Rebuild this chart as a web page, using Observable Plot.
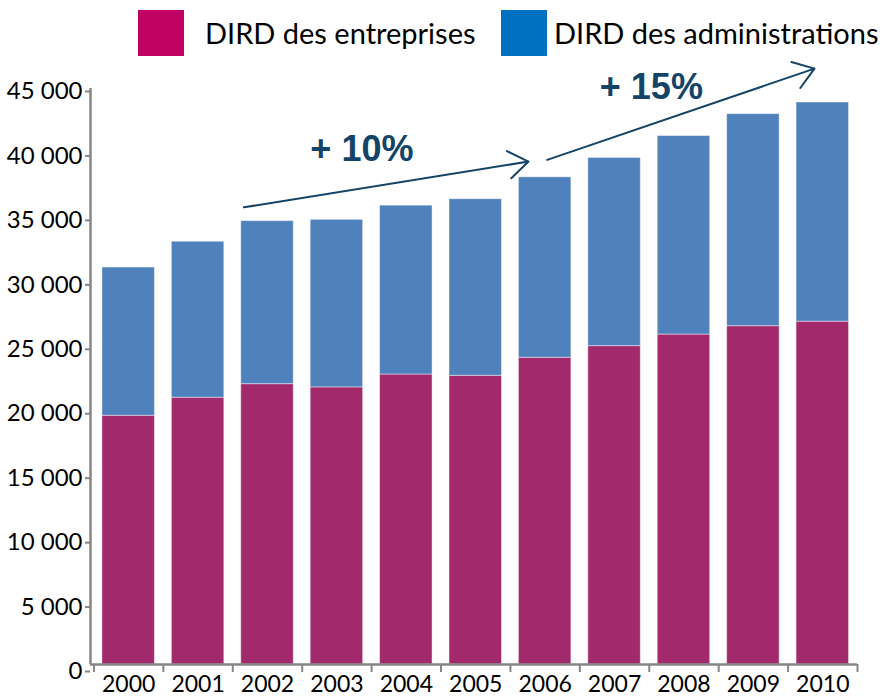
<!DOCTYPE html>
<html>
<head>
<meta charset="utf-8">
<script src="https://cdn.jsdelivr.net/npm/d3@7"></script>
<script src="https://cdn.jsdelivr.net/npm/@observablehq/plot@0.6"></script>
<style>
  body { margin: 0; background: #fff; }
  #wrap { position: relative; width: 884px; height: 700px; overflow: hidden; font-family: Lato, "Noto Sans", sans-serif; }
  #legend { position: relative; height: 60px; }
  .sw { position: absolute; top: 10px; width: 46px; height: 46px; }
  .lt { position: absolute; top: 13px; font-size: 29px; line-height: 40px; color: #000; white-space: nowrap; }
  svg { display: block; overflow: visible; }
</style>
</head>
<body>
<div id="wrap">
  <div id="legend"></div>
  <div id="chart"></div>
</div>
<script>
// ---- data ----
const years = [2000, 2001, 2002, 2003, 2004, 2005, 2006, 2007, 2008, 2009, 2010];
const entreprises = [19300, 20700, 21750, 21500, 22500, 22400, 23800, 24700, 25600, 26250, 26600];
const administrations = [11500, 12100, 12650, 13000, 13100, 13700, 14000, 14600, 15400, 16450, 17000];
const seriesNames = ["DIRD des entreprises", "DIRD des administrations"];
const yTicks = [0, 5000, 10000, 15000, 20000, 25000, 30000, 35000, 40000, 45000];
const arrowLabels = ["+ 10%", "+ 15%"];
const arrowStart = [[2001.66, 35470], [2006.03, 39150]];
const arrowEnd = [[2005.76, 39020], [2009.88, 46230]];
const labelPos = [[2003.36, 39950], [2007.53, 44750]];

// ---- style ----
const barColors = ["#A1296C", "#4F81BD"];
const swatchColors = ["#C00062", "#0070C0"];
const axisGray = "#868686";
const annotColor = "#134468";
const xDomain = [1999.45, 2010.5];
const halfW = 0.378;

// legend
const legend = document.getElementById("legend");
const legendPos = [[138, 205], [501, 554]];
seriesNames.forEach((name, i) => {
  const sw = document.createElement("div");
  sw.className = "sw";
  sw.style.left = legendPos[i][0] + "px";
  sw.style.background = swatchColors[i];
  legend.appendChild(sw);
  const t = document.createElement("div");
  t.className = "lt";
  t.style.left = legendPos[i][1] + "px";
  t.textContent = name;
  legend.appendChild(t);
});

const rows = years.map((year, i) => ({
  year,
  ent: entreprises[i],
  total: entreprises[i] + administrations[i]
}));
const boundaries = [...years.map(y => y - 0.5), years[years.length - 1] + 0.5];
const arrows = arrowLabels.map((label, i) => ({
  label,
  x1: arrowStart[i][0], y1: arrowStart[i][1],
  x2: arrowEnd[i][0], y2: arrowEnd[i][1],
  lx: labelPos[i][0], ly: labelPos[i][1]
}));

const fr = d3.formatLocale({decimal: ",", thousands: " ", grouping: [3], currency: ["", " €"]});
const fmt = fr.format(",");

const chart = Plot.plot({
  width: 884,
  height: 640,
  marginLeft: 90,
  marginRight: 27,
  marginTop: 24,
  marginBottom: 36,
  style: {fontFamily: "Lato, 'Noto Sans', sans-serif", fontSize: "24px", color: "#000", background: "#fff", overflow: "visible"},
  x: {type: "linear", domain: xDomain},
  y: {domain: [0, 45000]},
  marks: [
    Plot.rectY(rows, {x1: d => d.year - halfW, x2: d => d.year + halfW, y1: 0, y2: "ent", fill: barColors[0], stroke: "#ffffff", strokeOpacity: 0.45, strokeWidth: 1}),
    Plot.rectY(rows, {x1: d => d.year - halfW, x2: d => d.year + halfW, y1: "ent", y2: "total", fill: barColors[1], stroke: "#ffffff", strokeOpacity: 0.45, strokeWidth: 1}),
    Plot.axisY({ticks: yTicks, tickFormat: fmt, tickSize: 5, tickPadding: 3, stroke: axisGray, strokeWidth: 2, fontSize: 24, dy: 7, fill: "#000"}),
    Plot.ruleX([xDomain[0]], {y1: 0, y2: 45000, stroke: axisGray, strokeWidth: 2.5, insetBottom: -4}),
    Plot.ruleY([0], {stroke: axisGray, strokeWidth: 2.5}),
    Plot.axisX({ticks: boundaries, tickFormat: () => "", tickSize: 8, stroke: axisGray, strokeWidth: 2}),
    Plot.axisX({ticks: years, tickFormat: d => String(d), tickSize: 0, tickPadding: 11, fontSize: 23, fill: "#000"}),
    Plot.arrow(arrows, {x1: "x1", y1: "y1", x2: "x2", y2: "y2", stroke: annotColor, strokeWidth: 2, headLength: 18, headAngle: 70, insetStart: 0, insetEnd: 0}),
    Plot.text(arrows, {x: "lx", y: "ly", text: "label", fill: annotColor, fontSize: 36, fontWeight: "bold", fontFamily: "'Liberation Sans', Arial, sans-serif"})
  ]
});
document.getElementById("chart").appendChild(chart);
</script>
</body>
</html>
